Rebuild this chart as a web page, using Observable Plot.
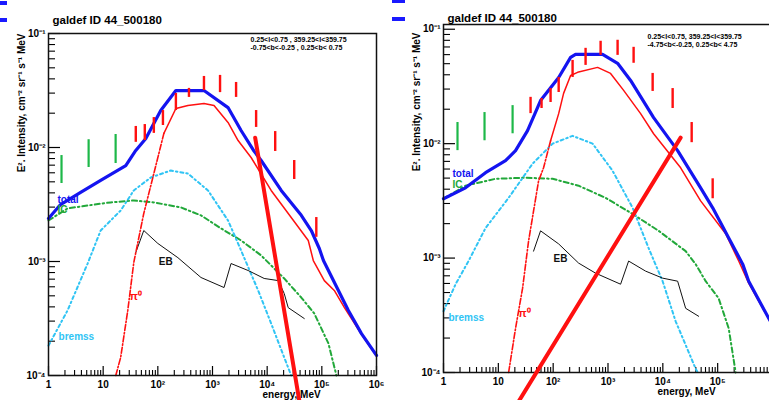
<!DOCTYPE html>
<html><head><meta charset="utf-8">
<script src="https://cdn.jsdelivr.net/npm/d3@7"></script>
<script src="https://cdn.jsdelivr.net/npm/@observablehq/plot@0.6"></script>
<style>
body{margin:0;background:#fff;}
#wrap{position:relative;width:769px;height:400px;overflow:hidden;display:flex;background:#fff;}
#wrap svg{flex:none;display:block;}
.bm{position:absolute;background:#1a1aff;}
</style></head><body>
<div id="wrap"></div>
<script>
// ---------- shared axis text ----------
const xTickValues = [1, 10, 100, 1e3, 1e4, 1e5, 1e6];
const xTickLabels = ["1", "10", "10²", "10³", "10⁴", "10⁵", "10⁶"];
const yTickValues = [1e-4, 1e-3, 1e-2, 1e-1];
const yTickLabels = ["10⁻⁴", "10⁻³", "10⁻²", "10⁻¹"];
const titleText = "galdef ID 44_500180";
const yTitle = "E². Intensity, cm⁻² sr⁻¹ s⁻¹ MeV";
const xTitle = "energy, MeV";
const curveNames = ["total", "IC", "EB", "π⁰", "bremss"];

// ---------- left panel ----------
const leftRegion = ["0.25<l<0.75 , 359.25<l<359.75", "-0.75<b<-0.25 , 0.25<b< 0.75"];
const leftTotalE = [1, 1.66, 3.87, 9.0, 25.9, 39.5, 60.3, 113, 214, 698, 1923, 3334, 5750, 7762, 18070, 42070, 64100, 89950, 107000, 306000, 531000, 1000000];
const leftTotalI = [2.38e-3, 3.16e-3, 4.03e-3, 5.14e-3, 6.95e-3, 9.42e-3, 1.2e-2, 2.11e-2, 3.16e-2, 3.16e-2, 2.24e-2, 1.41e-2, 9.3e-3, 7.69e-3, 4.2e-3, 2.54e-3, 1.87e-3, 1.3e-3, 1.02e-3, 3.72e-4, 2.33e-4, 1.5e-4];
const leftPi0E = [17, 20.9, 28.2, 36.3, 55.3, 84.5, 129, 214, 355, 698, 1066, 1923, 2938, 5082, 11830, 27540, 56490, 69800, 111000, 169000, 259000, 531000, 1000000];
const leftPi0I = [1e-4, 1.44e-4, 3.72e-4, 9.8e-4, 2.64e-3, 5.91e-3, 1.33e-2, 2.2e-2, 2.34e-2, 2.43e-2, 2.34e-2, 1.66e-2, 1.15e-2, 8.17e-3, 4.2e-3, 2.43e-3, 1.53e-3, 1.02e-3, 6.8e-4, 5.57e-4, 3.94e-4, 2.3e-4, 1.48e-4];
const leftBremE = [1, 2.23, 5.2, 9.0, 20.9, 36.3, 74.4, 173, 355, 827, 1923, 3334, 6840, 11830, 20500, 27540];
const leftBremI = [1.83e-4, 3.72e-4, 9.6e-4, 1.87e-3, 2.8e-3, 4.2e-3, 5.46e-3, 6.28e-3, 5.91e-3, 4.2e-3, 2.29e-3, 1.25e-3, 5.57e-4, 2.86e-4, 1.44e-4, 1e-4];
const leftIcE = [1, 2.23, 5.2, 13.7, 36.3, 84.5, 264, 615, 1432, 3334, 7762, 20500, 42070, 72800, 132000, 185000];
const leftIcI = [2.29e-3, 2.92e-3, 3.1e-3, 3.3e-3, 3.43e-3, 3.3e-3, 2.98e-3, 2.54e-3, 1.95e-3, 1.53e-3, 1.13e-3, 7.1e-4, 4.83e-4, 3.5e-4, 1.91e-4, 1e-4];
const leftEbE = [39.5, 55.3, 100, 233, 615, 1626, 2183, 4480, 8810, 15920, 20500, 24270, 47750];
const leftEbI = [1.2e-3, 1.87e-3, 1.44e-3, 1.08e-3, 7.24e-4, 5.91e-4, 9.6e-4, 8.34e-4, 7.1e-4, 6.8e-4, 5.24e-4, 3.94e-4, 3.16e-4];
const leftGreenE = [1.73, 5.42, 16.9];
const leftGreenLo = [4.83e-3, 6.68e-3, 7.24e-3];
const leftGreenHi = [8.5e-3, 1.17e-2, 1.3e-2];
const leftRedE = [39.5, 57.7, 84.5, 124, 214, 371, 698, 1374, 2700, 6280, 14030, 31260, 79250];
const leftRedLo = [1.11e-2, 1.15e-2, 1.33e-2, 1.56e-2, 2.11e-2, 2.75e-2, 3.16e-2, 3.03e-2, 2.75e-2, 1.5e-2, 9.23e-3, 5.24e-3, 1.63e-3];
const leftRedHi = [1.53e-2, 1.59e-2, 1.83e-2, 2.11e-2, 2.98e-2, 3.3e-2, 4.2e-2, 4.29e-2, 3.72e-2, 2.11e-2, 1.38e-2, 7.69e-3, 2.43e-3];
const leftCutE = [6030, 38640];
const leftCutI = [1.22e-2, 6.04e-5];
const leftLabelE = [1.46, 1.46, 140, 39.5, 1.53];
const leftLabelI = [3.5e-3, 2.86e-3, 1e-3, 4.93e-4, 2.2e-4];

// ---------- right panel ----------
const rightRegion = ["0.25<l<0.75, 359.25<l<359.75", "-4.75<b<-0.25, 0.25<b< 4.75"];
const rightTotalE = [1, 2.52, 5.84, 13.5, 20.6, 34.1, 58.9, 126, 208, 256, 797, 1496, 2582, 6790, 18620, 48900, 81100, 159000, 286000, 368000, 853000, 1000000];
const rightTotalI = [3.3e-3, 4.11e-3, 5.57e-3, 7.1e-3, 8.69e-3, 1.3e-2, 2.38e-2, 3.79e-2, 5.68e-2, 6.04e-2, 6.04e-2, 5.04e-2, 3.57e-2, 1.69e-2, 8.69e-3, 4.11e-3, 2.75e-3, 1.5e-3, 8.85e-4, 6.28e-4, 2.98e-4, 2.6e-4];
const rightPi0E = [15.4, 20.6, 27.7, 35.6, 54.2, 66.8, 89.7, 126, 155, 208, 279, 646, 1114, 1928, 3936, 6790, 21130, 48900, 140000, 242000, 368000, 853000, 1000000];
const rightPi0I = [1e-4, 2.43e-4, 5.46e-4, 1.41e-3, 4.73e-3, 6.15e-3, 1.06e-2, 1.83e-2, 2.75e-2, 3.94e-2, 4.2e-2, 4.64e-2, 4.11e-2, 2.92e-2, 1.83e-2, 1.22e-2, 6.15e-3, 3.16e-3, 1.63e-3, 9.42e-4, 6.04e-4, 2.95e-4, 2.55e-4];
const rightBremE = [1, 1.66, 2.86, 5.84, 15.4, 42.1, 97.5, 226, 524, 1213, 2812, 5510, 9910, 17140, 39700, 43150];
const rightBremI = [3.43e-4, 5.91e-4, 9.42e-4, 1.83e-3, 3.36e-3, 6.68e-3, 1e-2, 1.17e-2, 1e-2, 5.79e-3, 2.75e-3, 1.22e-3, 6.28e-4, 2.8e-4, 1.08e-4, 1e-4];
const rightIcE = [1, 2.52, 8.89, 31.4, 97.5, 291, 904, 2812, 8380, 26060, 39700, 60400, 104000, 159000, 213000];
const rightIcI = [3.3e-3, 4.29e-3, 4.93e-3, 5.04e-3, 4.93e-3, 4.29e-3, 3.36e-3, 2.43e-3, 1.73e-3, 1.15e-3, 8.85e-4, 6.28e-4, 4.46e-4, 2.43e-4, 1e-4];
const rightEbE = [43.9, 58.9, 126, 291, 594, 1698, 2377, 4853, 9910, 18620, 26060, 44980];
const rightEbI = [1.15e-3, 1.73e-3, 1.33e-3, 9.04e-4, 7.38e-4, 5.91e-4, 9.42e-4, 7.69e-4, 6.68e-4, 6.28e-4, 3.64e-4, 3.1e-4];
const rightGreenE = [1.8, 5.6, 18.2];
const rightGreenLo = [8.69e-3, 1.06e-2, 1.22e-2];
const rightGreenHi = [1.53e-2, 1.87e-2, 2.15e-2];
const rightRedE = [38.7, 61.4, 89.7, 126, 226, 390, 733, 1496, 2931, 6520, 15100, 33570, 81100];
const rightRedLo = [1.83e-2, 2.03e-2, 2.29e-2, 2.8e-2, 3.79e-2, 4.83e-2, 5.91e-2, 5.91e-2, 5.04e-2, 2.86e-2, 2.03e-2, 1.02e-2, 3.3e-3];
const rightRedHi = [2.54e-2, 2.48e-2, 3.03e-2, 3.79e-2, 5.34e-2, 6.81e-2, 7.85e-2, 8.01e-2, 6.95e-2, 4.11e-2, 3.03e-2, 1.53e-2, 4.93e-3];
const rightCutE = [21130, 23.4];
const rightCutI = [1.13e-2, 5.57e-5];
const rightLabelE = [1.46, 1.46, 136, 30.1, 1.23];
const rightLabelI = [5.46e-3, 4.37e-3, 9.8e-4, 3.3e-4, 3.03e-4];

// ---------- helpers ----------
const BLUE = "#1414f0", RED = "#ff1010", GREEN = "#22a83a", GREEN2 = "#1db848", CYAN = "#30c4f4";
const rows = (E, I) => E.map((e, i) => ({E: e, I: I[i]}));
const bars = (E, lo, hi) => E.map((e, i) => ({E: e, lo: lo[i], hi: hi[i]}));
const mult = [2, 3, 4, 5, 6, 7, 8, 9];
const xMinor = xTickValues.slice(0, -1).flatMap(v => mult.map(k => k * v));
const yMinor = yTickValues.slice(0, -1).flatMap(v => mult.map(k => k * v));
const xFmt = new Map(xTickValues.map((v, i) => [v, xTickLabels[i]]));
const yFmt = new Map(yTickValues.map((v, i) => [v, yTickLabels[i]]));
const labelColors = [BLUE, GREEN, "#111", RED, CYAN];
const labelAnchors = ["start", "start", "middle", "middle", "start"];

function makePanel(p) {
  const pi0 = rows(p.pi0E, p.pi0I);
  const lab = p.labelE.map((e, i) => ({E: e, I: p.labelI[i], t: curveNames[i]}));
  const xLabeled = xTickValues.filter(v => v <= p.xLabelMax);
  const marks = [
    Plot.axisX({ticks: xMinor, tickSize: -5, tickFormat: () => "", label: null, strokeWidth: 1.1}),
    Plot.axisX({ticks: xTickValues, tickSize: -9, tickFormat: () => "", label: null, strokeWidth: 1.2}),
    Plot.axisX({ticks: xLabeled, tickSize: 0, tickPadding: 5, tickFormat: d => xFmt.get(d), label: null, fontSize: 10, fontWeight: "bold"}),
    Plot.axisY({ticks: yMinor, tickSize: -7, tickFormat: () => "", label: null, strokeWidth: 1.1}),
    Plot.axisY({ticks: yTickValues, tickSize: -12, tickPadding: 15, tickFormat: d => yFmt.get(d), label: null, fontSize: 10, fontWeight: "bold", strokeWidth: 1.2}),
    Plot.line(rows(p.icE, p.icI), {x: "E", y: "I", stroke: GREEN, strokeWidth: 2, strokeDasharray: "5,3,1.5,3"}),
    Plot.line(rows(p.bremE, p.bremI), {x: "E", y: "I", stroke: CYAN, strokeWidth: 2, strokeDasharray: "3,3,1.5,3"}),
    Plot.line(rows(p.ebE, p.ebI), {x: "E", y: "I", stroke: "#111", strokeWidth: 1}),
    Plot.line(pi0.filter(d => d.E <= p.piSplit), {x: "E", y: "I", stroke: RED, strokeWidth: 1.6, strokeDasharray: "6,2,1.5,2"}),
    Plot.line(pi0.filter(d => d.E >= p.piSplit), {x: "E", y: "I", stroke: RED, strokeWidth: 1.5}),
    Plot.line(rows(p.totalE, p.totalI), {x: "E", y: "I", stroke: BLUE, strokeWidth: 3.2}),
    Plot.ruleX(bars(p.greenE, p.greenLo, p.greenHi), {x: "E", y1: "lo", y2: "hi", stroke: GREEN2, strokeWidth: 2.2}),
    Plot.ruleX(bars(p.redE, p.redLo, p.redHi), {x: "E", y1: "lo", y2: "hi", stroke: RED, strokeWidth: 2.4}),
    ...lab.map((d, i) => Plot.text([d], {x: "E", y: "I", text: "t", fill: labelColors[i], textAnchor: labelAnchors[i], fontSize: i === 3 ? 11 : 10, fontWeight: "bold"})),
    Plot.text([titleText], {frameAnchor: "top-left", dx: 4, dy: p.titleDy, text: d => d, textAnchor: "start", fontSize: 11.5, fontWeight: "bold", fill: "#000"}),
    Plot.text([yTitle], {frameAnchor: "top-left", dx: -31, dy: p.yTitleDy, rotate: -90, text: d => d, textAnchor: "end", fontSize: 10, fontWeight: "bold", fill: "#000"}),
    Plot.text([xTitle], {frameAnchor: "bottom-left", dx: 214, dy: 22, text: d => d, textAnchor: "start", fontSize: 10, fontWeight: "bold", fill: "#000"}),
    Plot.text([p.region[0]], {frameAnchor: "top-right", dx: p.regionDx, dy: p.regionDy, text: d => d, textAnchor: "start", fontSize: 7, fontWeight: "bold", fill: "#000"}),
    Plot.text([p.region[1]], {frameAnchor: "top-right", dx: p.regionDx, dy: p.regionDy + 8, text: d => d, textAnchor: "start", fontSize: 7, fontWeight: "bold", fill: "#000"}),
    Plot.frame({stroke: "#111", strokeWidth: 1.5}),
    Plot.line(rows(p.cutE, p.cutI), {x: "E", y: "I", stroke: RED, strokeWidth: 4})
  ];
  return Plot.plot({
    width: p.width, height: 400,
    marginLeft: p.marginLeft, marginRight: p.marginRight, marginTop: p.marginTop, marginBottom: p.marginBottom,
    x: {type: "log", domain: [1, 1e6]},
    y: {type: "log", domain: p.yDomain},
    style: {background: "white", fontFamily: "'Liberation Sans', Arial, sans-serif", fontWeight: "bold", overflow: "visible"},
    marks
  });
}

const left = makePanel({
  width: 385, marginLeft: 48, marginRight: 9, marginTop: 33, marginBottom: 25, yDomain: [1e-4, 1e-1],
  totalE: leftTotalE, totalI: leftTotalI, pi0E: leftPi0E, pi0I: leftPi0I, piSplit: 129,
  bremE: leftBremE, bremI: leftBremI, icE: leftIcE, icI: leftIcI, ebE: leftEbE, ebI: leftEbI,
  greenE: leftGreenE, greenLo: leftGreenLo, greenHi: leftGreenHi,
  redE: leftRedE, redLo: leftRedLo, redHi: leftRedHi, cutE: leftCutE, cutI: leftCutI,
  labelE: leftLabelE, labelI: leftLabelI, region: leftRegion, xLabelMax: 1e6,
  titleDy: -18, yTitleDy: 0, regionDx: -126, regionDy: 3.5
});
const right = makePanel({
  width: 387, marginLeft: 58, marginRight: 0, marginTop: 24, marginBottom: 28, yDomain: [1e-4, 1.1e-1],
  totalE: rightTotalE, totalI: rightTotalI, pi0E: rightPi0E, pi0I: rightPi0I, piSplit: 89.7,
  bremE: rightBremE, bremI: rightBremI, icE: rightIcE, icI: rightIcI, ebE: rightEbE, ebI: rightEbI,
  greenE: rightGreenE, greenLo: rightGreenLo, greenHi: rightGreenHi,
  redE: rightRedE, redLo: rightRedLo, redHi: rightRedHi, cutE: rightCutE, cutI: rightCutI,
  labelE: rightLabelE, labelI: rightLabelI, region: rightRegion, xLabelMax: 1e5,
  titleDy: -11, yTitleDy: 8, regionDx: -125, regionDy: 9.5
});
const wrap = document.getElementById("wrap");
wrap.appendChild(left);
wrap.appendChild(right);
[[0, 1, 7, 4], [0, 18, 7, 4], [392, 0, 13, 3], [392, 17, 13, 4]].forEach(([l, t, w, h]) => {
  const d = document.createElement("div");
  d.className = "bm";
  d.style.cssText = `left:${l}px;top:${t}px;width:${w}px;height:${h}px;`;
  wrap.appendChild(d);
});
</script></body></html>
